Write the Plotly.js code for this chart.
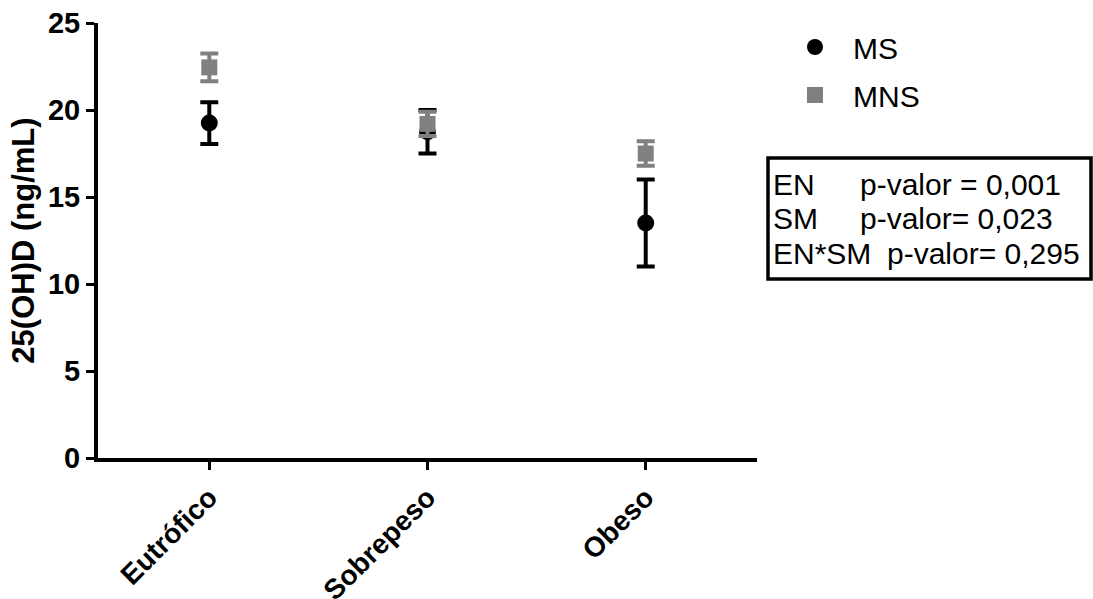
<!DOCTYPE html>
<html>
<head>
<meta charset="utf-8">
<script src="https://cdn.plot.ly/plotly-3.0.1.min.js"></script>
<style>html,body{margin:0;padding:0;background:#fff;}#chart{width:1093px;height:599px;}</style>
</head>
<body>
<div id="chart"></div>
<script>
// Data
const categories = ["Eutrófico", "Sobrepeso", "Obeso"];
const msMean = [19.25, 18.75, 13.5];
const msErr = [1.2, 1.25, 2.5];
const mnsMean = [22.45, 19.2, 17.5];
const mnsErr = [0.8, 0.7, 0.7];
const seriesNames = ["MS", "MNS"];
const yTickVals = [0, 5, 10, 15, 20, 25];
const statLabels = ["EN", "SM", "EN*SM"];
const statValues = ["p-valor = 0,001", "p-valor= 0,023", "p-valor= 0,295"];

const FONT = "Arial, 'Liberation Sans', sans-serif";

const traces = [
  {
    type: "scatter", mode: "markers", name: seriesNames[0], legendgroup: "a",
    x: categories, y: msMean,
    marker: {symbol: "circle", size: 17, color: "#000000"},
    error_y: {type: "data", array: msErr, visible: true, color: "#000000", thickness: 4, width: 9}
  },
  {
    type: "scatter", mode: "markers", name: seriesNames[1], legendgroup: "b",
    x: categories, y: mnsMean,
    marker: {symbol: "square", size: 16, color: "#808080"},
    error_y: {type: "data", array: mnsErr, visible: true, color: "#808080", thickness: 4, width: 9}
  }
];

const L = 98, R = 757, T = 23, B = 458;
const px2x = p => (p - L) / (R - L);
const px2y = p => (B - p) / (B - T);

const lineY = [184, 218, 254];
const annotations = [];
statLabels.forEach((s, i) => {
  annotations.push({xref: "paper", yref: "paper", x: px2x(771), y: px2y(lineY[i]), xanchor: "left", yanchor: "middle",
    text: s, showarrow: false, font: {family: FONT, size: 30, color: "#000"}});
});
const valX = [858, 858, 885];
statValues.forEach((s, i) => {
  annotations.push({xref: "paper", yref: "paper", x: px2x(valX[i]), y: px2y(lineY[i]), xanchor: "left", yanchor: "middle",
    text: s, showarrow: false, font: {family: FONT, size: 30, color: "#000"}});
});

const layout = {
  width: 1093, height: 599,
  margin: {l: L, r: 1093 - R, t: T, b: 599 - B, pad: 0},
  paper_bgcolor: "#ffffff", plot_bgcolor: "#ffffff",
  font: {family: FONT, color: "#000"},
  showlegend: true,
  legend: {
    x: px2x(777), y: px2y(21), xanchor: "left", yanchor: "top",
    itemwidth: 66, tracegroupgap: 6,
    font: {family: FONT, size: 30, color: "#000"},
    bgcolor: "rgba(0,0,0,0)"
  },
  xaxis: {
    type: "category", range: [-0.51, 2.51],
    showline: true, linewidth: 4, linecolor: "#000",
    showgrid: false, zeroline: false,
    ticks: "outside", ticklen: 8, tickwidth: 3, tickcolor: "#000",
    tickangle: -45,
    tickfont: {family: FONT, size: 28, color: "#000", weight: "bold"}
  },
  yaxis: {
    range: [0, 25], tickvals: yTickVals,
    showline: true, linewidth: 4, linecolor: "#000",
    showgrid: false, zeroline: false,
    ticks: "outside", ticklen: 8, tickwidth: 3, tickcolor: "#000",
    tickfont: {family: FONT, size: 29, color: "#000", weight: "bold"},
    title: {text: "25(OH)D (ng/mL)", font: {family: FONT, size: 31, color: "#000", weight: "bold"}, standoff: 5}
  },
  shapes: [{
    type: "rect", xref: "paper", yref: "paper",
    x0: px2x(768), x1: px2x(1091), y0: px2y(279), y1: px2y(158),
    line: {color: "#000", width: 3.5}, fillcolor: "rgba(0,0,0,0)"
  }],
  annotations: annotations
};

Plotly.newPlot("chart", traces, layout, {displayModeBar: false, staticPlot: true});
</script>
</body>
</html>
